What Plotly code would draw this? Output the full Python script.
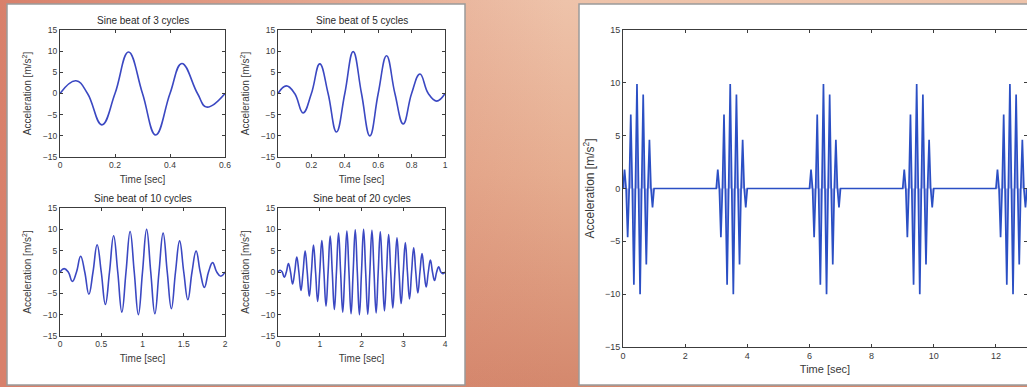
import base64
import plotly.graph_objects as go

# ---------------- data ----------------
# Sine beat of 3 cycles
t3 = [0, 0.058, 0.1, 0.152, 0.2, 0.249, 0.3, 0.348, 0.4, 0.443, 0.5, 0.533, 0.6]
a3 = [0, 3.0, 0, -7.4, 0, 9.8, 0, -9.8, 0, 7.1, 0, -3.2, 0]

# Sine beat of 5 cycles
t5 = [0, 0.05, 0.1, 0.15, 0.2, 0.25, 0.3, 0.35, 0.4, 0.45, 0.5,
      0.55, 0.6, 0.65, 0.7, 0.75, 0.8, 0.85, 0.9, 0.95, 1.0]
a5 = [0, 1.8, 0, -4.6, 0, 7.0, 0, -9.1, 0, 9.9, 0,
      -10.0, 0, 8.9, 0, -7.2, 0, 4.6, 0, -1.8, 0]

# Sine beat of 10 cycles
t10 = [0, 0.05, 0.1, 0.15, 0.2, 0.25, 0.3, 0.35, 0.4, 0.45, 0.5,
       0.55, 0.6, 0.65, 0.7, 0.75, 0.8, 0.85, 0.9, 0.95, 1.0,
       1.05, 1.1, 1.15, 1.2, 1.25, 1.3, 1.35, 1.4, 1.45, 1.5,
       1.55, 1.6, 1.65, 1.7, 1.75, 1.8, 1.85, 1.9, 1.95, 2.0]
a10 = [0, 0.8, 0, -2.2, 0, 3.7, 0, -5.2, 0, 6.4, 0,
       -7.6, 0, 8.5, 0, -9.4, 0, 9.5, 0, -10.0, 0,
       10.0, 0, -9.8, 0, 9.1, 0, -8.6, 0, 7.3, 0,
       -6.5, 0, 4.9, 0, -3.6, 0, 2.2, 0, -1.0, 0]

# Sine beat of 20 cycles
t20 = [0, 0.05, 0.1, 0.15, 0.2, 0.25, 0.3, 0.35, 0.4, 0.45, 0.5,
       0.55, 0.6, 0.65, 0.7, 0.75, 0.8, 0.85, 0.9, 0.95, 1.0,
       1.05, 1.1, 1.15, 1.2, 1.25, 1.3, 1.35, 1.4, 1.45, 1.5,
       1.55, 1.6, 1.65, 1.7, 1.75, 1.8, 1.85, 1.9, 1.95, 2.0,
       2.05, 2.1, 2.15, 2.2, 2.25, 2.3, 2.35, 2.4, 2.45, 2.5,
       2.55, 2.6, 2.65, 2.7, 2.75, 2.8, 2.85, 2.9, 2.95, 3.0,
       3.05, 3.1, 3.15, 3.2, 3.25, 3.3, 3.35, 3.4, 3.45, 3.5,
       3.55, 3.6, 3.65, 3.7, 3.75, 3.8, 3.85, 3.9, 3.95, 4.0]
a20 = [0, 0.4, 0, -1.2, 0, 2.0, 0, -2.8, 0, 3.5, 0,
       -4.3, 0, 4.9, 0, -5.7, 0, 6.3, 0, -6.9, 0,
       7.4, 0, -8.0, 0, 8.4, 0, -8.8, 0, 9.1, 0,
       -9.4, 0, 9.6, 0, -9.8, 0, 9.9, 0, -10.0, 0,
       10.0, 0, -9.9, 0, 9.8, 0, -9.6, 0, 9.4, 0,
       -9.1, 0, 8.8, 0, -8.4, 0, 8.0, 0, -7.4, 0,
       6.9, 0, -6.3, 0, 5.7, 0, -4.9, 0, 4.3, 0,
       -3.5, 0, 2.8, 0, -2.0, 0, 1.2, 0, -0.4, 0]

# Repeated bursts (5-cycle beat every 3 s)
burst_starts = [0, 3, 6, 9, 12]

x5r, y5r = [], []
for s in burst_starts:
    x5r += [s + t for t in t5]
    y5r += a5

# tick labels
y_ticks = [-15, -10, -5, 0, 5, 10, 15]
x1_ticks, x1_text = [0, 0.2, 0.4, 0.6], ["0", "0.2", "0.4", "0.6"]
x2_ticks, x2_text = [0, 0.2, 0.4, 0.6, 0.8, 1], ["0", "0.2", "0.4", "0.6", "0.8", "1"]
x3_ticks, x3_text = [0, 0.5, 1, 1.5, 2], ["0", "0.5", "1", "1.5", "2"]
x4_ticks, x4_text = [0, 1, 2, 3, 4], ["0", "1", "2", "3", "4"]
x5_ticks, x5_text = [0, 2, 4, 6, 8, 10, 12], ["0", "2", "4", "6", "8", "10", "12"]

titles = ["Sine beat of 3 cycles", "Sine beat of 5 cycles",
          "Sine beat of 10 cycles", "Sine beat of 20 cycles"]
ylabel = "Acceleration [m/s<sup>2</sup>]"
xlabel = "Time [sec]"

# ---------------- figure ----------------
W, H = 1027, 387
FONT = "Liberation Sans, Arial, sans-serif"
LINE = "#3b48c2"
TXT = "#3a3a3a"

def px(x):
    return x / W

def py(y):
    return 1 - y / H

fig = go.Figure()
series = [(t3, a3), (t5, a5), (t10, a10), (t20, a20)]
for i, (tx, ay) in enumerate(series):
    n = "" if i == 0 else str(i + 1)
    fig.add_trace(go.Scatter(x=tx, y=ay, mode="lines",
                             line=dict(color=LINE, width=1.6, shape="spline", smoothing=1.25),
                             xaxis="x" + n, yaxis="y" + n, showlegend=False, hoverinfo="skip"))
fig.add_trace(go.Scatter(x=x5r, y=y5r, mode="lines", line=dict(color="#2b4fc4", width=1.7),
                         fill="tozeroy", fillcolor="rgba(140,150,225,0.75)",
                         xaxis="x5", yaxis="y5", showlegend=False, hoverinfo="skip"))

def axis_common(tick_size):
    return dict(showline=True, linecolor="#3c3c3c", linewidth=1, mirror="ticks", ticks="inside",
                ticklen=3, tickcolor="#3c3c3c", tickfont=dict(size=tick_size, color=TXT, family=FONT),
                showgrid=False, zeroline=False, automargin=False, fixedrange=True)

doms = {
    1: ([px(60), px(225)], [py(157), py(30)]),
    2: ([px(278), px(445)], [py(157), py(30)]),
    3: ([px(60), px(225)], [py(336), py(208)]),
    4: ([px(278), px(445)], [py(336), py(208)]),
    5: ([px(623), 1.0], [py(347), py(30)]),
}
xinfo = {1: ([0, 0.6], x1_ticks, x1_text), 2: ([0, 1], x2_ticks, x2_text),
         3: ([0, 2], x3_ticks, x3_text), 4: ([0, 4], x4_ticks, x4_text),
         5: ([0, 13.0], x5_ticks, x5_text)}
# (tick font, x-title font, y-title font, x standoff, y standoff)
styles = {k: (8.5, 10, 10, 6, 9) for k in range(1, 5)}
styles[5] = (9, 11, 12, 5, 7)

lay = {}
annotations = []
for k in range(1, 6):
    n = "" if k == 1 else str(k)
    xd, yd = doms[k]
    rng, tv, tt = xinfo[k]
    tf, xf, yf, xs, ys = styles[k]
    lay["xaxis" + n] = dict(axis_common(tf), domain=xd, range=rng, tickvals=tv, ticktext=tt,
                            anchor="y" + n,
                            title=dict(text=xlabel, font=dict(size=xf, color=TXT, family=FONT),
                                       standoff=xs))
    lay["yaxis" + n] = dict(axis_common(tf), domain=yd, range=[-15, 15], tickvals=y_ticks,
                            anchor="x" + n,
                            title=dict(text=ylabel, font=dict(size=yf, color=TXT, family=FONT),
                                       standoff=ys))
    if k <= 4:
        annotations.append(dict(text=titles[k - 1], xref="x" + n + " domain", yref="y" + n + " domain",
                                x=0.5, y=1, yanchor="bottom", yshift=2, showarrow=False,
                                font=dict(size=10, color="#2a2a2a", family=FONT)))

svg = f'''<svg xmlns="http://www.w3.org/2000/svg" width="{W}" height="{H}" viewBox="0 0 {W} {H}" preserveAspectRatio="none">
<defs>
<linearGradient id="v" x1="0" y1="0" x2="0" y2="1">
<stop offset="0" stop-color="#eec3aa"/><stop offset="0.45" stop-color="#e6ad90"/><stop offset="1" stop-color="#d4886d"/>
</linearGradient>
<linearGradient id="h" x1="0" y1="0" x2="1" y2="0">
<stop offset="0" stop-color="#d8806b" stop-opacity="1"/><stop offset="0.3" stop-color="#d8806b" stop-opacity="0.45"/>
<stop offset="0.55" stop-color="#d8806b" stop-opacity="0"/><stop offset="1" stop-color="#d8806b" stop-opacity="0"/>
</linearGradient>
</defs>
<rect x="0" y="0" width="{W}" height="{H}" fill="url(#v)"/>
<rect x="0" y="0" width="{W}" height="{H}" fill="url(#h)"/>
</svg>'''
src = "data:image/svg+xml;base64," + base64.b64encode(svg.encode()).decode()

shapes = [
    dict(type="rect", xref="paper", yref="paper", x0=px(7), x1=px(465), y0=py(385), y1=py(4),
         fillcolor="white", line=dict(color="#9a9a9a", width=1.5), layer="below"),
    dict(type="rect", xref="paper", yref="paper", x0=px(579), x1=px(1030), y0=py(385), y1=py(4),
         fillcolor="white", line=dict(color="#9a9a9a", width=1.5), layer="below"),
]

fig.update_layout(
    width=W, height=H, margin=dict(l=0, r=0, t=0, b=0),
    paper_bgcolor="#e2a088", plot_bgcolor="white",
    images=[dict(source=src, xref="paper", yref="paper", x=0, y=1, sizex=1, sizey=1,
                 sizing="stretch", layer="below", xanchor="left", yanchor="top")],
    shapes=shapes, annotations=annotations, showlegend=False,
    **lay,
)

fig.write_html("out.html", config={"displayModeBar": False},
               post_script="document.body.style.margin='0';document.body.style.overflow='hidden';")
